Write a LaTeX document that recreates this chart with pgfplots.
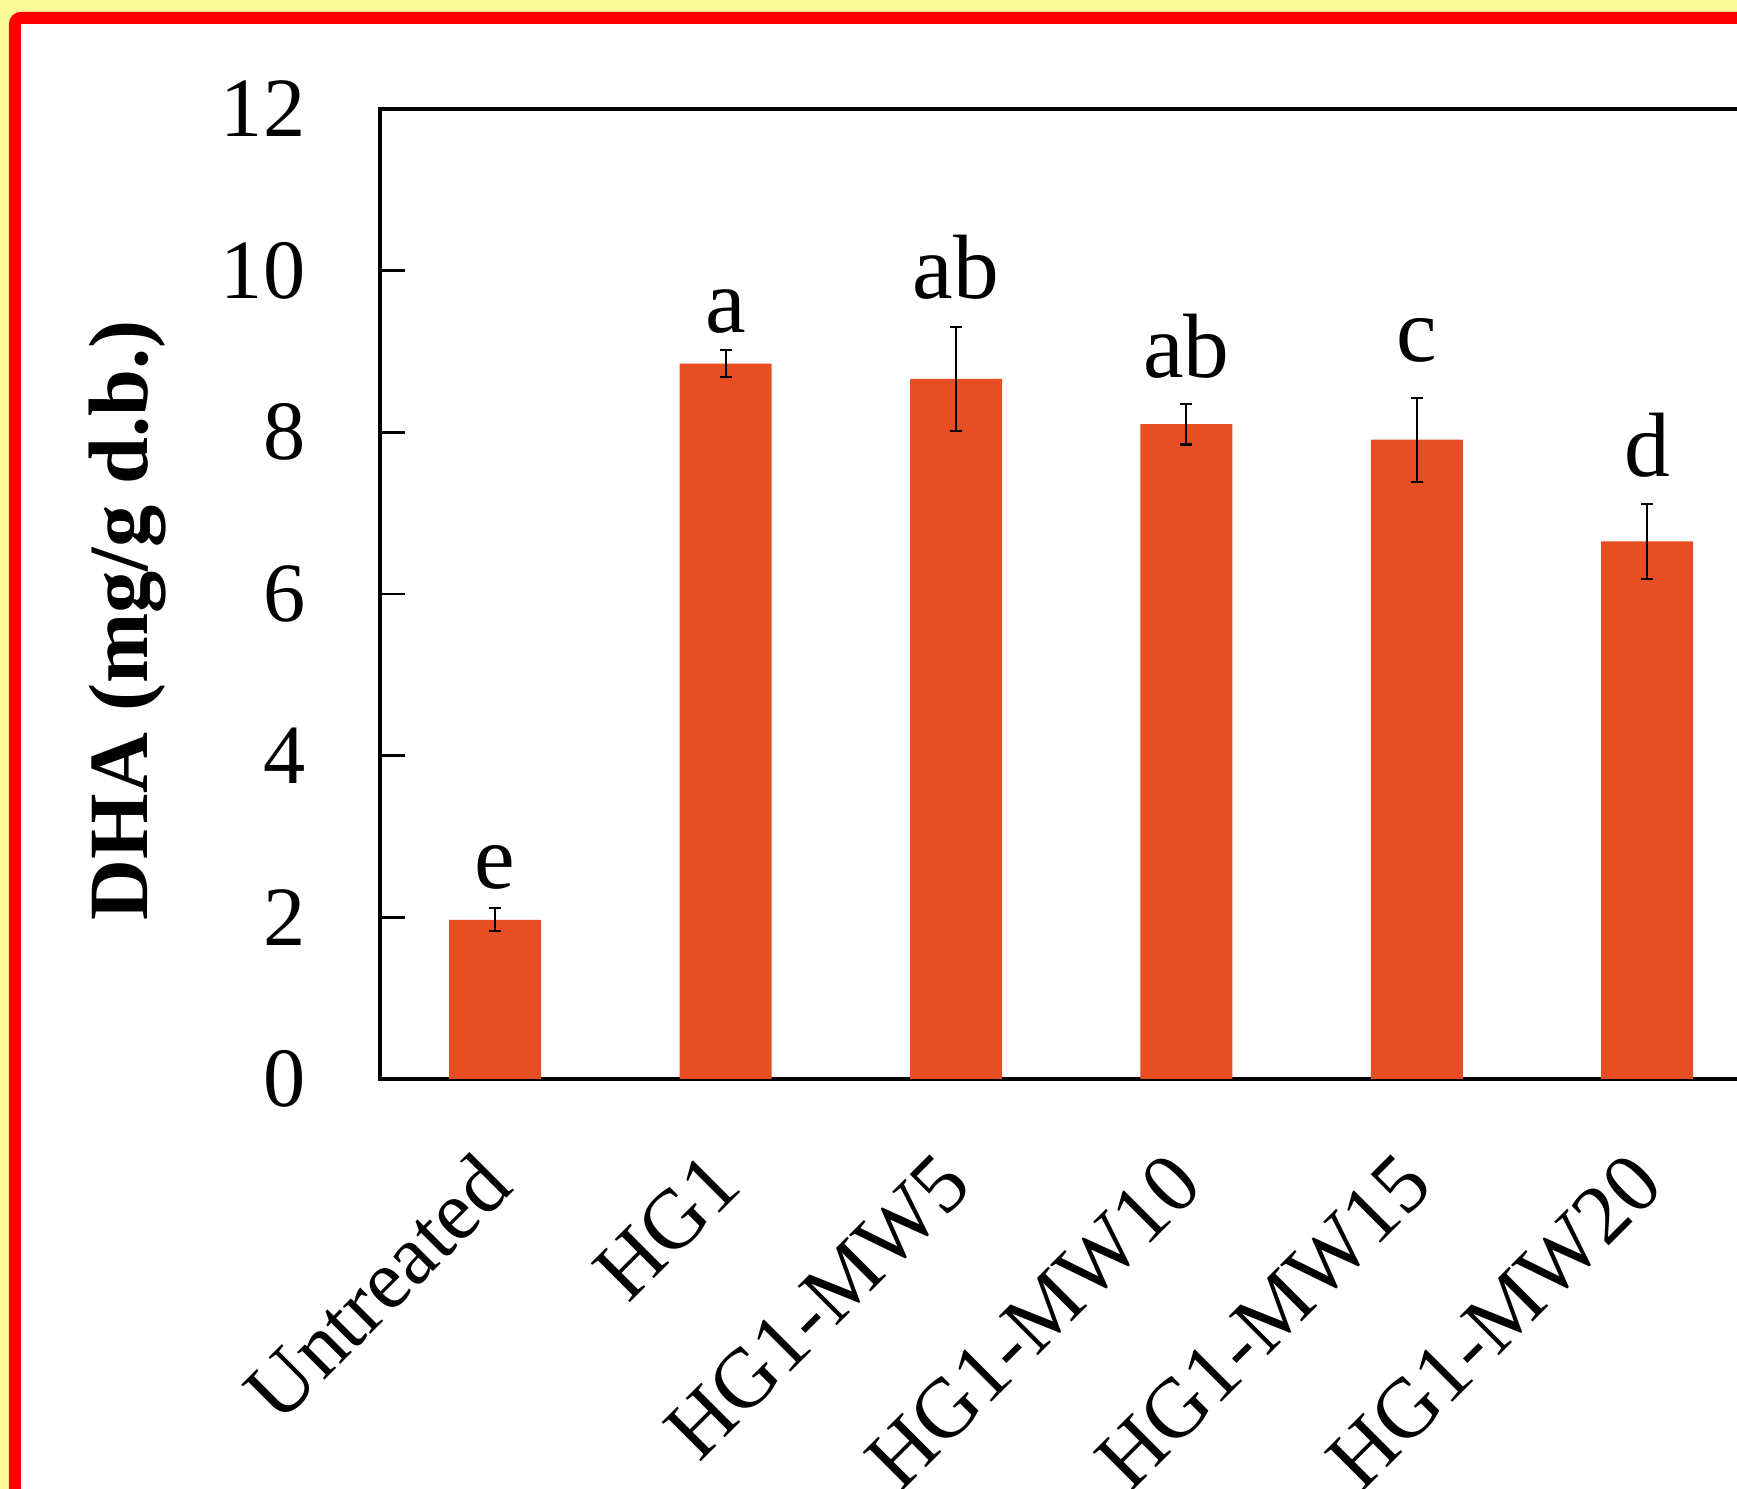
\documentclass[border=0pt]{standalone}
\usepackage{fontspec}
\setmainfont{Liberation Serif}
\usepackage{pgfplots}
\pgfplotsset{compat=1.18}
\definecolor{bgyellow}{RGB}{250,250,150}
\definecolor{barred}{RGB}{232,78,36}
\begin{document}
\begin{tikzpicture}
\useasboundingbox (0,0) rectangle (17.37cm,14.89cm);
\clip (0,0) rectangle (17.37cm,14.89cm);
\fill[bgyellow] (0,0) rectangle (17.37cm,14.89cm);
\draw[red, line width=0.12cm, fill=white, rounded corners=0.06cm] (0.15cm,-1cm) rectangle (19cm,14.71cm);
\begin{axis}[
  at={(3.80cm,4.10cm)}, anchor=south west,
  scale only axis, width=16.128cm, height=9.70cm,
  xmin=-0.5, xmax=6.5, ymin=0, ymax=12,
  xtick={0,1,2,3,4,5},
  xticklabels={Untreated,HG1,HG1-MW5,HG1-MW10,HG1-MW15,HG1-MW20},
  ytick={0,2,4,6,8,10,12},
  /pgf/number format/assume math mode=true,
  axis line style={line width=1.15pt, black},
  ytick pos=left,
  tick align=inside,
  major tick length=0.25cm,
  ytick style={line width=0.85pt, black},
  xtick style={draw=none},
  ticklabel style={font=\fontsize{24}{28}\selectfont},
  yticklabel style={anchor=east, inner sep=0pt},
  yticklabel shift=0.74cm,
  xticklabel style={rotate=45, anchor=east, inner sep=0pt},
  xticklabel shift=0.9cm,
  ylabel={DHA (mg/g d.b.)},
  ylabel style={font=\bfseries\fontsize{24}{28}\selectfont, at={(axis description cs:-0.1566,0.473)}, anchor=center},
]
\addplot[ybar, bar width=0.92cm, fill=barred, draw=none,
  error bars/.cd, y dir=both, y explicit,
  error bar style={line width=0.6pt, black},
  error mark=-,
  error mark options={rotate=90, line width=0.6pt, mark size=0.06cm, black}]
  table[x=x, y=y, y error=e] {
x y e
0 1.97 0.14
1 8.85 0.17
2 8.66 0.64
3 8.10 0.25
4 7.91 0.52
5 6.65 0.46
};
\node[anchor=base, font=\fontsize{26}{30}\selectfont] at (axis cs:0,2.36) {e};
\node[anchor=base, font=\fontsize{26}{30}\selectfont] at (axis cs:1,9.24) {a};
\node[anchor=base, font=\fontsize{26}{30}\selectfont] at (axis cs:2,9.65) {ab};
\node[anchor=base, font=\fontsize{26}{30}\selectfont] at (axis cs:3,8.68) {ab};
\node[anchor=base, font=\fontsize{26}{30}\selectfont] at (axis cs:4,8.88) {c};
\node[anchor=base, font=\fontsize{26}{30}\selectfont] at (axis cs:5,7.45) {d};
\end{axis}
\end{tikzpicture}
\end{document}
